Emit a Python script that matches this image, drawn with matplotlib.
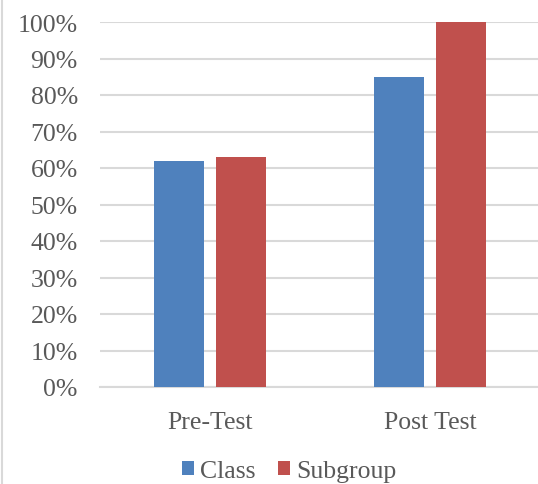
import matplotlib.pyplot as plt
from matplotlib.lines import Line2D
from matplotlib.ticker import PercentFormatter
import numpy as np

# datos
categorias = ['Pre-Test', 'Post Test']
clase = [0.62, 0.85]
subgrupo = [0.63, 1.00]

plt.rcParams['font.family'] = ['Liberation Serif', 'DejaVu Serif']
GRIS = '#595959'
TAM = 18.5

fig = plt.figure(figsize=(5.38, 4.85), dpi=100)
ax = fig.add_axes([100/538, 97/485, 440/538, 365/485])

x = np.arange(len(categorias))
ancho = 0.227
ax.bar(x - 0.143, clase, ancho, color='#4F81BD', label='Class', zorder=3)
ax.bar(x + 0.143, subgrupo, ancho, color='#C0504D', label='Subgroup', zorder=3)

ax.set_xlim(-0.5, 1.5)
ax.set_ylim(0, 1)
ax.set_yticks(np.arange(0, 1.01, 0.1))
ax.yaxis.set_major_formatter(PercentFormatter(1.0, decimals=0))
ax.set_xticks(x)
ax.set_xticklabels(categorias)
ax.tick_params(axis='both', length=0, labelsize=TAM, colors=GRIS)
ax.tick_params(axis='y', pad=16)
ax.tick_params(axis='x', pad=17)
ax.grid(axis='y', color='#d9d9d9', linewidth=1.5, zorder=0)
for s in ['top', 'right', 'left']:
    ax.spines[s].set_visible(False)
ax.spines['bottom'].set_color('#d9d9d9')
ax.spines['bottom'].set_linewidth(1.5)

leg = fig.legend(loc='center', bbox_to_anchor=(289/538, 1 - 472/485), ncol=2,
                 frameon=False, fontsize=TAM, handlelength=0.47, handleheight=0.47,
                 handletextpad=0.25, columnspacing=0.85)
for t in leg.get_texts():
    t.set_color(GRIS)

# borde izquierdo del grafico
fig.add_artist(Line2D([1.5/538, 1.5/538], [0, 1], color='#d9d9d9', linewidth=1.5))

fig.savefig('out.png', dpi=100)
